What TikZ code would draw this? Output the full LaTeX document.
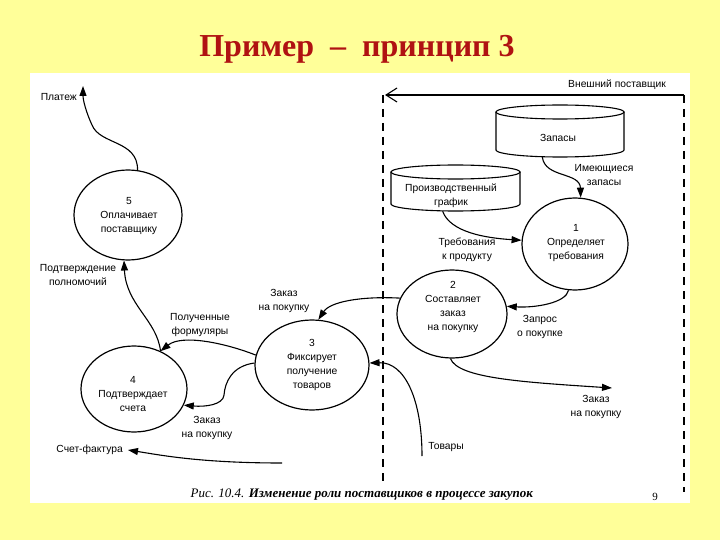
\documentclass[tikz,border=0pt]{standalone}
\usepackage{fontspec}
\setmainfont{Liberation Serif}
\newfontfamily\diagfont{Liberation Sans}
\usetikzlibrary{shapes.geometric,arrows.meta}
\definecolor{bgyellow}{RGB}{255,255,153}
\definecolor{titlered}{RGB}{176,18,18}
\begin{document}
\begin{tikzpicture}[x=1pt,y=-1pt,
  proc/.style={draw, ellipse, line width=1.2pt, inner sep=0pt},
  storebox/.style={draw=none, rectangle, inner sep=0pt},
  storeline/.style={line width=1.1pt},
  lbl/.style={font=\diagfont\fontsize{10.3}{14}\selectfont, align=center, inner sep=0pt},
  flow/.style={line width=1.1pt, -{Triangle[length=10pt,width=7pt]}},
  dashline/.style={line width=1.3pt, dash pattern=on 8pt off 6pt}
]
\useasboundingbox (0,0) rectangle (720,540);
\fill[bgyellow] (0,0) rectangle (720,540);
\fill[white] (30,73) rectangle (690,503);

% title
\node[font=\bfseries\fontsize{32}{36}\selectfont, text=titlered, anchor=base] (title) at (357,57) {Пример \ – \ принцип 3};

% external supplier boundary
\coordinate (extR) at (684,95);
\coordinate (extL) at (385,95);
\draw[line width=1.1pt, -{Straight Barb[length=11pt,width=14pt]}] (extR) -- (extL);
\draw[dashline] (383,95) -- (383,482);
\draw[dashline] (684,95) -- (684,492);
\node[lbl] (ext) at (617,85) {Внешний поставщик};

% stores (cylinders)
\node[storebox, minimum width=128pt, minimum height=52pt] (zap) at (560,131) {};
\draw[storeline] (560,112) ellipse [x radius=64, y radius=7];
\draw[storeline] (496,112) -- (496,150) arc[start angle=180, end angle=0, x radius=64, y radius=7] -- (624,112);
\node[lbl] (zapt) at (558,138) {Запасы};
\node[storebox, minimum width=129pt, minimum height=46pt] (pg) at (455.5,188) {};
\draw[storeline] (455.5,172) ellipse [x radius=64.5, y radius=7];
\draw[storeline] (391,172) -- (391,204) arc[start angle=180, end angle=0, x radius=64.5, y radius=7] -- (520,172);
\node[lbl] (pgt) at (451,196) {Производственный\\график};

% processes
\node[proc, minimum width=106pt, minimum height=92pt] (e1) at (575,244) {};
\node[lbl] (t1) at (576,243) {1\\Определяет\\требования};
\node[proc, minimum width=110pt, minimum height=88pt] (e2) at (452,314) {};
\node[lbl] (t2) at (453,307) {2\\Составляет\\заказ\\на покупку};
\node[proc, minimum width=114pt, minimum height=90pt] (e3) at (312,365) {};
\node[lbl] (t3) at (312,365) {3\\Фиксирует\\получение\\товаров};
\node[proc, minimum width=106pt, minimum height=86pt] (e4) at (134,389) {};
\node[lbl] (t4) at (133,394) {4\\Подтверждает\\счета};
\node[proc, minimum width=108pt, minimum height=90pt] (e5) at (128,215) {};
\node[lbl] (t5) at (129,216) {5\\Оплачивает\\поставщику};

% free ends
\coordinate (pay) at (83,86);
\coordinate (goods) at (422,456);
\coordinate (ordout) at (612,388);
\coordinate (invsrc) at (282,463);
\coordinate (invtip) at (128,450);

% flows
\draw[flow] (e5.78) .. controls (138,140) and (100,145) .. (92,125) .. controls (86,112) and (83,100) .. (pay);
\draw[flow] (e4.55) .. controls (157,320) and (126,305) .. (e5.265);
\draw[flow] (e3.170) .. controls (225,343) and (182,334) .. (e4.55);
\draw[flow] (e3.178) .. controls (232,366) and (225,382) .. (224,395) .. controls (223,405) and (205,407) .. (e4.-18);
\draw[flow] (e2.163) .. controls (360,296) and (330,302) .. (e3.82);
\draw[flow] (goods) .. controls (422,400) and (405,362) .. (e3.2);
\draw[flow] (e2.268) .. controls (458,378) and (520,382) .. (ordout);
\draw[flow] (e1.262) .. controls (566,303) and (535,308) .. (e2.8);
\draw[flow] (pg.241) .. controls (450,232) and (485,238) .. (e1.176);
\draw[flow] (zap.236) .. controls (545,178) and (580,172) .. (e1.83);
\draw[flow] (invsrc) .. controls (200,463) and (160,455) .. (invtip);

% labels
\node[lbl, anchor=east] (payl) at (77,97) {Платеж};
\node[lbl] (conf) at (78,275) {Подтверждение\\полномочий};
\node[lbl] (forms) at (200,325) {Полученные\\формуляры};
\node[lbl] (ord23) at (284,301) {Заказ\\на покупку};
\node[lbl] (ord34) at (207,428) {Заказ\\на покупку};
\node[lbl, anchor=east] (invl) at (123,450) {Счет-фактура};
\node[lbl] (goodsl) at (446,447) {Товары};
\node[lbl] (ordoutl) at (596,407) {Заказ\\на покупку};
\node[lbl] (reql) at (540,327) {Запрос\\о покупке};
\node[lbl] (prodl) at (467,250) {Требования\\к продукту};
\node[lbl] (stockl) at (604,175) {Имеющиеся\\запасы};

% caption
\node[font=\fontsize{13}{15}\selectfont, anchor=base] (cap) at (362,497) {\textit{Рис. 10.4.} \textbf{\textit{Изменение роли поставщиков в процессе закупок}}};
\node[font=\fontsize{11}{13}\selectfont, anchor=base] (pnum) at (655,500) {9};
\end{tikzpicture}
\end{document}
